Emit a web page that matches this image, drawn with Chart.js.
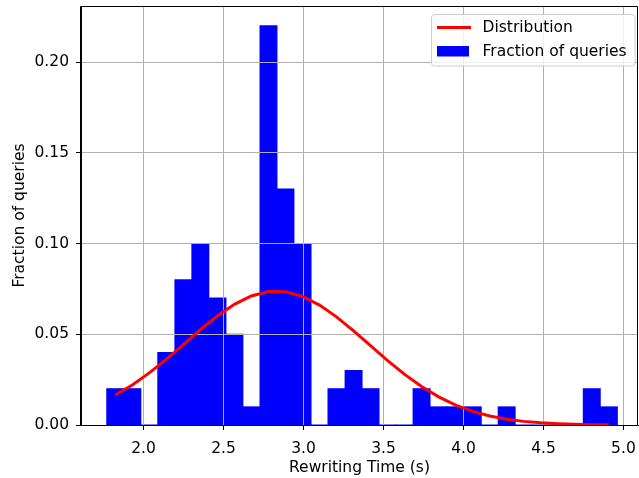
<!DOCTYPE html>
<html>
<head>
<meta charset="utf-8">
<title>Rewriting time histogram</title>
<script src="https://cdn.jsdelivr.net/npm/chart.js@4/dist/chart.umd.min.js"></script>
<style>
  html, body { margin: 0; padding: 0; background: #ffffff; }
  #chart { display: block; }
</style>
</head>
<body>
<canvas id="chart" width="639" height="478"></canvas>
<script>
// Histogram bins: 30 equal-width bins of rewriting time (seconds)
const binStart = 1.770;
const binWidth = 0.1064;

// Bin centres (s)
const binCenters = [
  1.823, 1.930, 2.036, 2.142, 2.249, 2.355, 2.462, 2.568, 2.674, 2.781,
  2.887, 2.994, 3.100, 3.206, 3.313, 3.419, 3.526, 3.632, 3.738, 3.845,
  3.951, 4.058, 4.164, 4.270, 4.377, 4.483, 4.590, 4.696, 4.802, 4.909
];

// Fraction of queries falling in each bin
const fractionOfQueries = [
  0.02, 0.02, 0.00, 0.04, 0.08, 0.10, 0.07, 0.05, 0.01, 0.22,
  0.13, 0.10, 0.00, 0.02, 0.03, 0.02, 0.00, 0.00, 0.02, 0.01,
  0.01, 0.01, 0.00, 0.01, 0.00, 0.00, 0.00, 0.00, 0.02, 0.01
];

// Fitted distribution evaluated at each bin centre
const distribution = [
  0.0165, 0.0220, 0.0287, 0.0362, 0.0443, 0.0525, 0.0601, 0.0665, 0.0711, 0.0735,
  0.0734, 0.0709, 0.0661, 0.0596, 0.0519, 0.0437, 0.0355, 0.0279, 0.0212, 0.0155,
  0.0110, 0.0075, 0.0050, 0.0032, 0.0020, 0.0012, 0.0007, 0.0004, 0.0002, 0.0001
];

// Axis ticks
const xTicks = [2.0, 2.5, 3.0, 3.5, 4.0, 4.5, 5.0];
const yTicks = [0.00, 0.05, 0.10, 0.15, 0.20];

const FONT = "'DejaVu Sans', sans-serif";
const FS = 15.5;
const GRID = '#b0b0b0';
const LINE_W = 3;

const barData = binCenters.map((x, i) => ({ x: x, y: fractionOfQueries[i] }));
const lineData = binCenters.map((x, i) => ({ x: x, y: distribution[i] }));

// Grid lines sit above the bars but beneath the fitted curve
const gridOverBars = {
  id: 'gridOverBars',
  beforeDatasetDraw(chart, args) {
    if (args.meta.type === 'line') {
      chart.scales.x.drawGrid(chart.chartArea);
      chart.scales.y.drawGrid(chart.chartArea);
    }
  }
};

// Axes frame and legend box
const frameAndLegend = {
  id: 'frameAndLegend',
  afterDraw(chart) {
    const ctx = chart.ctx;
    const a = chart.chartArea;
    ctx.save();
    ctx.strokeStyle = '#000000';
    ctx.lineWidth = 1;
    ctx.beginPath();
    ctx.rect(Math.round(a.left) - 0.5, Math.round(a.top) + 0.5,
             Math.round(a.right - a.left), Math.round(a.bottom - a.top));
    ctx.stroke();

    // legend
    const lx = 431.5, ly = 14.5, lw = 203.5, lh = 51.5, r = 3;
    ctx.beginPath();
    ctx.moveTo(lx + r, ly);
    ctx.lineTo(lx + lw - r, ly);
    ctx.quadraticCurveTo(lx + lw, ly, lx + lw, ly + r);
    ctx.lineTo(lx + lw, ly + lh - r);
    ctx.quadraticCurveTo(lx + lw, ly + lh, lx + lw - r, ly + lh);
    ctx.lineTo(lx + r, ly + lh);
    ctx.quadraticCurveTo(lx, ly + lh, lx, ly + lh - r);
    ctx.lineTo(lx, ly + r);
    ctx.quadraticCurveTo(lx, ly, lx + r, ly);
    ctx.closePath();
    ctx.fillStyle = 'rgba(255,255,255,0.8)';
    ctx.fill();
    ctx.strokeStyle = '#cccccc';
    ctx.stroke();

    ctx.strokeStyle = '#ff0000';
    ctx.lineWidth = LINE_W;
    ctx.beginPath();
    ctx.moveTo(437, 27.5);
    ctx.lineTo(471, 27.5);
    ctx.stroke();

    ctx.fillStyle = '#0000ff';
    ctx.fillRect(437, 46, 32, 10.5);

    ctx.fillStyle = '#000000';
    ctx.font = FS + 'px ' + FONT;
    ctx.textBaseline = 'middle';
    ctx.textAlign = 'left';
    ctx.fillText('Distribution', 482.5, 28);
    ctx.fillText('Fraction of queries', 482.5, 51.5);
    ctx.restore();
  }
};

new Chart(document.getElementById('chart'), {
  data: {
    datasets: [
      {
        type: 'line',
        label: 'Distribution',
        data: lineData,
        borderColor: '#ff0000',
        borderWidth: LINE_W,
        pointRadius: 0,
        tension: 0,
        fill: false,
        order: 0
      },
      {
        type: 'bar',
        label: 'Fraction of queries',
        data: barData,
        backgroundColor: '#0000ff',
        borderWidth: 0,
        inflateAmount: 0.5,
        barPercentage: 1.0,
        categoryPercentage: 1.0,
        order: 1
      }
    ]
  },
  options: {
    responsive: false,
    animation: false,
    events: [],
    layout: { padding: { top: 6, right: 1, left: 0, bottom: 0 } },
    plugins: {
      legend: { display: false },
      tooltip: { enabled: false }
    },
    scales: {
      x: {
        type: 'linear',
        min: 1.609,
        max: 5.091,
        offset: false,
        afterFit(scale) {
          scale.height = 53;
          scale.paddingLeft = 0;
          scale.paddingRight = 0;
        },
        afterBuildTicks(scale) { scale.ticks = xTicks.map(v => ({ value: v })); },
        grid: { offset: false, color: GRID, lineWidth: 1, tickColor: '#000000', tickLength: 5, drawTicks: true },
        border: { color: '#000000', width: 1 },
        ticks: {
          color: '#000000',
          font: { family: FONT, size: FS },
          padding: 9.5,
          maxRotation: 0,
          autoSkip: false,
          callback: v => Number(v).toFixed(1)
        },
        title: {
          display: true,
          text: 'Rewriting Time (s)',
          color: '#000000',
          font: { family: FONT, size: FS },
          padding: { top: 0, bottom: 1 }
        }
      },
      y: {
        type: 'linear',
        min: 0,
        max: 0.2309,
        afterFit(scale) {
          scale.width = 81;
          scale.paddingTop = 0;
          scale.paddingBottom = 0;
        },
        afterBuildTicks(scale) { scale.ticks = yTicks.map(v => ({ value: v })); },
        grid: { offset: false, color: GRID, lineWidth: 1, tickColor: '#000000', tickLength: 5, drawTicks: true },
        border: { color: '#000000', width: 1 },
        ticks: {
          color: '#000000',
          font: { family: FONT, size: FS },
          padding: 7,
          autoSkip: false,
          callback: v => Number(v).toFixed(2)
        },
        title: {
          display: true,
          text: 'Fraction of queries',
          color: '#000000',
          font: { family: FONT, size: FS },
          padding: { top: 11, bottom: 0 }
        }
      }
    }
  },
  plugins: [gridOverBars, frameAndLegend]
});
</script>
</body>
</html>
